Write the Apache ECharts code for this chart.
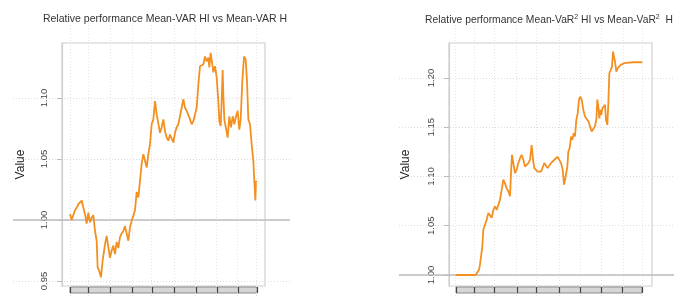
<!DOCTYPE html>
<html>
<head>
<meta charset="utf-8">
<script src="https://cdn.jsdelivr.net/npm/echarts@6/dist/echarts.min.js"></script>
<style>
  html, body { margin: 0; padding: 0; background: #fff; }
  #chart { width: 698px; height: 306px; }
</style>
</head>
<body>
<div id="chart"></div>
<script>
// 左图：Mean-VAR HI vs Mean-VAR H
var leftX = [0, 5, 10, 15, 20, 25, 30, 35, 40, 45, 50, 55, 60, 65, 70, 75, 80, 83, 87, 90, 93, 98, 105, 110, 115, 120, 125, 130, 135, 140, 145, 150, 155, 160, 165, 170, 175, 180, 185, 190, 195, 200, 205, 210, 215, 220, 225, 230, 235, 240, 245, 250, 255, 260, 265, 270, 275, 280, 285, 290, 295, 300, 305, 310, 315, 320, 325, 330, 335, 340, 345, 350, 355, 360, 365, 370, 375, 380, 385, 390, 395, 400, 405, 410, 415, 418, 422, 427, 430, 435, 440, 445, 448, 452, 455, 458, 460, 463, 468, 473, 478, 483, 488, 493, 498, 503, 508, 512, 517, 522, 527, 531, 535, 540, 545, 550, 553, 556, 558, 560];
var leftVal = [1.005, 1.000, 0.999, 1.008, 1.010, 1.013, 1.0145, 1.016, 1.010, 1.005, 0.997, 1.006, 0.998, 1.002, 1.004, 0.991, 0.983, 0.961, 0.959, 0.956, 0.953, 0.967, 0.980, 0.987, 0.978, 0.969, 0.975, 0.979, 0.972, 0.982, 0.977, 0.986, 0.989, 0.991, 0.995, 0.989, 0.983, 0.994, 0.9995, 1.0035, 1.008, 1.023, 1.0185, 1.032, 1.046, 1.054, 1.0485, 1.043, 1.054, 1.062, 1.0785, 1.0825, 1.0975, 1.0865, 1.085, 1.0715, 1.076, 1.0825, 1.073, 1.0675, 1.065, 1.070, 1.069, 1.0635, 1.0715, 1.076, 1.0785, 1.085, 1.092, 1.099, 1.092, 1.0895, 1.088, 1.0825, 1.0785, 1.081, 1.0825, 1.092, 1.111, 1.126, 1.126, 1.1275, 1.134, 1.130, 1.133, 1.125, 1.137, 1.1275, 1.121, 1.126, 1.117, 1.0975, 1.081, 1.077, 1.0975, 1.123, 1.103, 1.0825, 1.084, 1.0675, 1.085, 1.076, 1.085, 1.0785, 1.085, 1.0895, 1.074, 1.0825, 1.114, 1.134, 1.1315, 1.114, 1.0825, 1.0785, 1.062, 1.0485, 1.032, 1.016, 1.032, 1.031];
var leftTicks = [0.95, 1.00, 1.05, 1.10];
var leftSeg = [0, 55, 120, 187, 245, 313, 377, 440, 503, 560];

// 右图：Mean-VaR² HI vs Mean-VaR² H
var rightX = [0, 20, 40, 60, 65, 70, 73, 76, 78, 80, 83, 88, 93, 98, 103, 108, 113, 118, 123, 128, 133, 138, 143, 148, 153, 158, 163, 166, 169, 173, 178, 183, 188, 193, 198, 203, 208, 213, 218, 223, 228, 232, 236, 241, 246, 251, 256, 261, 266, 271, 276, 281, 286, 291, 296, 301, 306, 311, 316, 321, 325, 330, 335, 338, 342, 346, 350, 354, 358, 362, 366, 370, 374, 378, 383, 388, 393, 398, 403, 408, 413, 418, 422, 425, 428, 431, 434, 437, 440, 444, 448, 451, 455, 458, 461, 465, 469, 472, 475, 478, 482, 486, 490, 495, 500, 505, 510, 530, 560];
var rightVal = [1.000, 1.000, 1.000, 1.000, 0.9986, 1.0054, 1.0105, 1.012, 1.0088, 1.029, 1.046, 1.051, 1.056, 1.063, 1.061, 1.058, 1.066, 1.0696, 1.066, 1.068, 1.0764, 1.0865, 1.0967, 1.093, 1.088, 1.085, 1.080, 1.1034, 1.122, 1.1136, 1.1034, 1.107, 1.1136, 1.1186, 1.122, 1.117, 1.110, 1.110, 1.1136, 1.117, 1.132, 1.117, 1.1085, 1.107, 1.105, 1.1034, 1.105, 1.105, 1.1136, 1.112, 1.1085, 1.110, 1.1136, 1.115, 1.117, 1.1186, 1.120, 1.1186, 1.1136, 1.107, 1.0916, 1.100, 1.110, 1.1254, 1.1288, 1.1406, 1.137, 1.144, 1.1406, 1.1575, 1.164, 1.178, 1.181, 1.178, 1.1676, 1.161, 1.159, 1.156, 1.151, 1.1457, 1.144, 1.151, 1.1575, 1.178, 1.171, 1.159, 1.1676, 1.1625, 1.169, 1.171, 1.1727, 1.1575, 1.1524, 1.1744, 1.2048, 1.208, 1.2115, 1.2268, 1.2217, 1.2167, 1.2065, 1.21, 1.2115, 1.2133, 1.2115, 1.215, 1.216, 1.216, 1.216];
var rightTicks = [1.00, 1.05, 1.10, 1.15, 1.20];
var rightSeg = [0, 55, 115, 183, 243, 310, 373, 437, 502, 560];

var chart = echarts.init(document.getElementById('chart'));
var FONT = 'Liberation Sans';
var LINE = '#f39020';

var grids = [], xAxes = [], yAxes = [], series = [];

// 一个面板 = 外层网格(虚线+1.00参考线) + 边框网格(y轴) + 底部灰色条
function addPanel(p) {
    var gi = grids.length;
    // 外层网格
    grids.push({ left: p.wideL, top: 25, width: p.wideW, height: 273 });
    xAxes.push({
        type: 'value', gridIndex: gi, min: p.wideXMin, max: p.wideXMax,
        axisLine: { show: false }, axisLabel: { show: false },
        axisTick: { show: false, customValues: p.seg },
        splitLine: { show: true, lineStyle: { color: '#e4e4e4', type: [1, 2], width: 1 } }
    });
    yAxes.push({
        type: 'value', gridIndex: gi, min: p.wideYMin, max: p.wideYMax,
        axisLine: { show: false }, axisLabel: { show: false },
        axisTick: { show: false, customValues: p.ticks },
        splitLine: { show: true, lineStyle: { color: '#dcdcdc', type: [1, 2], width: 1 } }
    });
    series.push({
        type: 'line', xAxisIndex: gi, yAxisIndex: gi,
        data: p.xs.map(function (x, i) { return [x, p.vals[i]]; }),
        showSymbol: false, silent: true,
        lineStyle: { color: LINE, width: 1.8 },
        markLine: {
            silent: true, symbol: 'none', label: { show: false },
            lineStyle: { color: '#bdbdbd', type: 'solid', width: 1.5 },
            data: [{ yAxis: 1.0 }]
        },
        z: 5
    });

    // 边框网格
    var bi = grids.length;
    grids.push({ left: p.boxL, top: 43, width: 203, height: 243, show: true, borderColor: '#d0d0d0', borderWidth: 1.2 });
    xAxes.push({ type: 'value', gridIndex: bi, min: 0, max: 1, show: false });
    yAxes.push({
        type: 'value', gridIndex: bi, min: p.boxYMin, max: p.boxYMax,
        name: 'Value', nameLocation: 'middle', nameGap: p.nameGap, nameRotate: 90,
        nameTextStyle: { fontFamily: FONT, fontSize: 12, color: '#222' },
        axisLine: { show: true, lineStyle: { color: '#cfcfcf', width: 1.2 } },
        axisTick: { show: true, length: 5, customValues: p.ticks, lineStyle: { color: '#bbb' } },
        axisLabel: {
            customValues: p.ticks, rotate: 90, margin: 13,
            fontFamily: FONT, fontSize: 9.5, color: '#444',
            formatter: function (v) { return v.toFixed(2); }
        },
        splitLine: { show: false }
    });

    // 底部条
    var si = grids.length;
    grids.push({ left: p.stripL, top: 287, width: p.stripW, height: 6, show: true, backgroundColor: '#d6d6d6', borderColor: '#8a8a8a', borderWidth: 1 });
    xAxes.push({
        type: 'value', gridIndex: si, min: 0, max: 560,
        axisLine: { show: false }, axisLabel: { show: false },
        axisTick: { show: false, customValues: p.seg },
        splitLine: { show: true, lineStyle: { color: '#444', width: 1.2 } }
    });
    yAxes.push({ type: 'value', gridIndex: si, min: 0, max: 1, show: false });
}

addPanel({
    xs: leftX, vals: leftVal, ticks: leftTicks, seg: leftSeg,
    wideL: 13, wideW: 277, wideXMin: -171, wideXMax: 660,
    wideYMin: 0.9361, wideYMax: 1.1598,
    boxL: 62, boxYMin: 0.9459, boxYMax: 1.1451,
    stripL: 70, stripW: 187, nameGap: 35
});
addPanel({
    xs: rightX, vals: rightVal, ticks: rightTicks, seg: rightSeg,
    wideL: 399, wideW: 275, wideXMin: -170, wideXMax: 655,
    wideYMin: 0.97665, wideYMax: 1.2538,
    boxL: 449, boxYMin: 0.98883, boxYMax: 1.23553,
    stripL: 456, stripW: 186, nameGap: 37
});

var option = {
    backgroundColor: '#fff',
    animation: false,
    title: [{
        text: 'Relative performance Mean-VAR HI vs Mean-VAR H',
        left: 160, top: 9, textAlign: 'center',
        textStyle: { fontFamily: FONT, fontSize: 10.5, fontWeight: 'normal', color: '#333' }
    }, {
        text: 'Relative performance Mean-VaR{sup|2} HI vs Mean-VaR{sup|2}  H',
        left: 544, top: 9, textAlign: 'center',
        textStyle: {
            fontFamily: FONT, fontSize: 10.3, fontWeight: 'normal', color: '#333',
            rich: { sup: { fontFamily: FONT, fontSize: 7, color: '#333', verticalAlign: 'top', padding: [0, 0, 6, 0] } }
        }
    }],
    grid: grids,
    xAxis: xAxes,
    yAxis: yAxes,
    series: series
};
chart.setOption(option);
window.addEventListener('resize', function () { chart.resize(); });
</script>
</body>
</html>
